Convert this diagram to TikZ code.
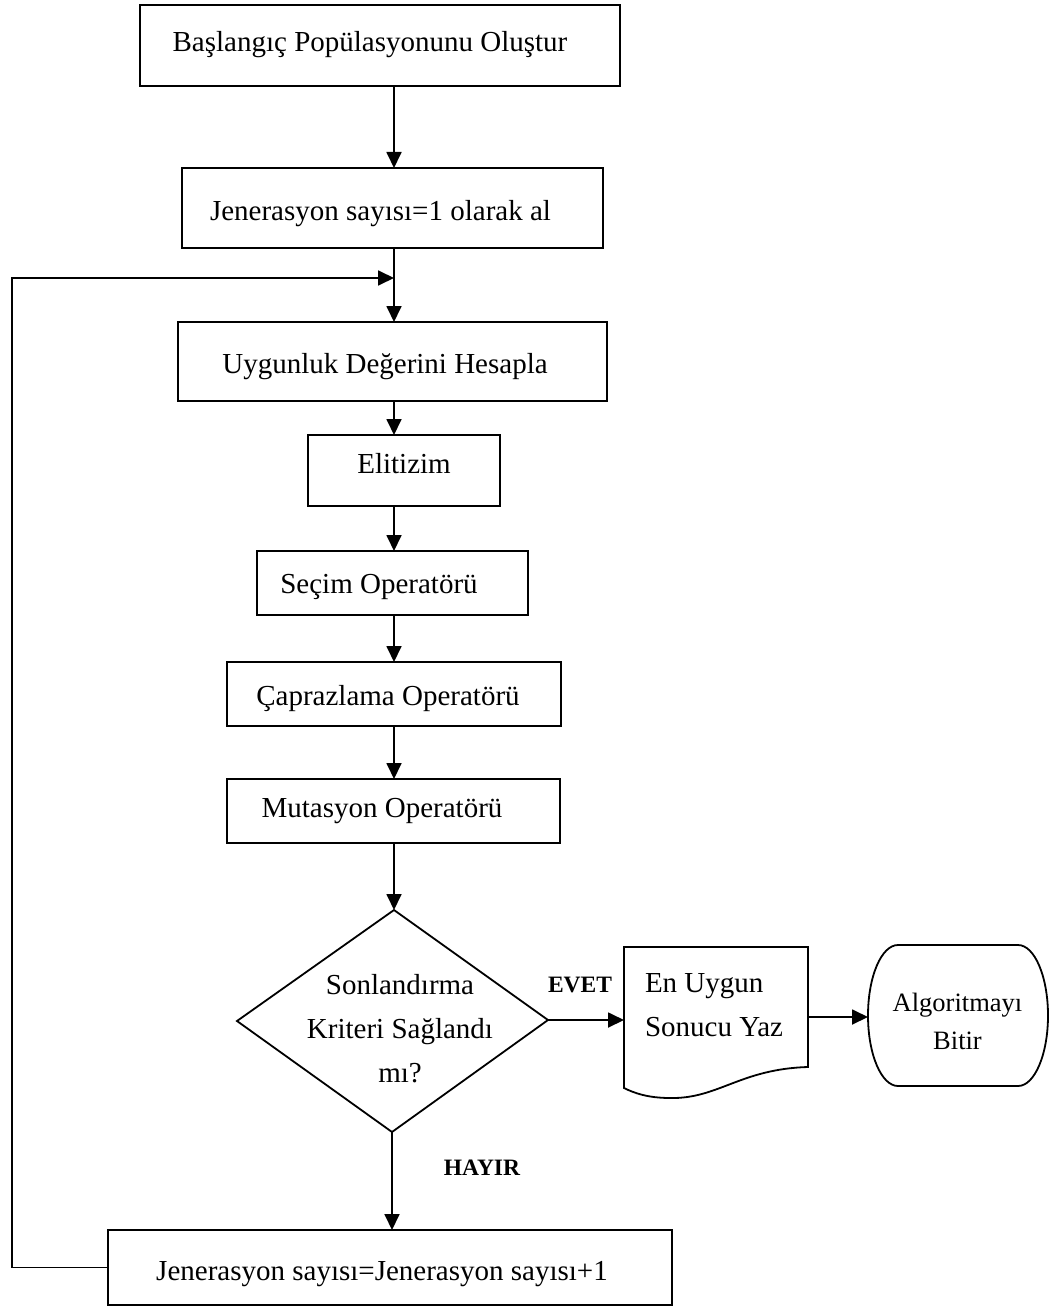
\documentclass[tikz,border=0pt]{standalone}
\usepackage{fontspec}
\setmainfont{Liberation Serif}
\usetikzlibrary{arrows.meta}
\begin{document}
\begin{tikzpicture}[x=1pt,y=-1pt,
  every node/.style={inner sep=0pt, outer sep=0pt},
  flowbox/.style={draw, line width=1.8pt},
  lbl/.style={font=\fontsize{29}{44}\selectfont, align=center},
  baselbl/.style={lbl, anchor=base},
  termlbl/.style={font=\fontsize{26.5}{38}\selectfont, align=center},
  yesno/.style={font=\bfseries\fontsize{23.5}{28}\selectfont, anchor=base},
  edge/.style={line width=1.8pt},
  conn/.style={edge, -{Triangle[length=16pt,width=15pt]}}]
\useasboundingbox (0,0) rectangle (1051,1308);

% process boxes
\node[flowbox, minimum width=480pt, minimum height=81pt] (b1) at (380,45.5) {};
\node[flowbox, minimum width=421pt, minimum height=80pt] (b2) at (392.5,208) {};
\node[flowbox, minimum width=429pt, minimum height=79pt] (b3) at (392.5,361.5) {};
\node[flowbox, minimum width=192pt, minimum height=71pt] (b4) at (404,470.5) {};
\node[flowbox, minimum width=271pt, minimum height=64pt] (b5) at (392.5,583) {};
\node[flowbox, minimum width=334pt, minimum height=64pt] (b6) at (394,694) {};
\node[flowbox, minimum width=333pt, minimum height=64pt] (b7) at (393.5,811) {};
\node[flowbox, minimum width=564pt, minimum height=75pt] (b8) at (390,1267.5) {};

% box texts, placed by baseline
\node[baselbl] (t1) at (370,52) {Başlangıç Popülasyonunu Oluştur};
\node[baselbl] (t2) at (380.5,220) {Jenerasyon sayısı=1 olarak al};
\node[baselbl] (t3) at (385,373) {Uygunluk Değerini Hesapla};
\node[baselbl] (t4) at (404,473) {Elitizim};
\node[baselbl] (t5) at (379,593) {Seçim Operatörü};
\node[baselbl] (t6) at (388,705) {Çaprazlama Operatörü};
\node[baselbl] (t7) at (382,817) {Mutasyon Operatörü};
\node[baselbl] (t8) at (382,1280) {Jenerasyon sayısı=Jenerasyon sayısı+1};

% decision
\coordinate (dT) at (394,910);
\coordinate (dL) at (237,1021);
\coordinate (dR) at (548,1020);
\coordinate (dB) at (392,1132);
\draw[edge, line join=miter] (dT) -- (dR) -- (dB) -- (dL) -- cycle;
\node[lbl] (dtext) at (400,1029) {Sonlandırma\\Kriteri Sağlandı\\mı?};

% document (output) shape
\coordinate (docL) at (624,1020);
\coordinate (docR) at (808,1017);
\draw[edge, line join=miter] (624,947) -- (808,947) -- (808,1067)
  .. controls (740,1069) and (718,1099) .. (670,1098)
  .. controls (648,1098) and (634,1093) .. (624,1088) -- cycle;
\node[lbl, align=left, anchor=west] (doctext) at (645,1005.5) {En Uygun\\Sonucu Yaz};

% terminal shape
\coordinate (termL) at (868,1017);
\draw[edge] (898,945) -- (1018,945)
  arc[start angle=-90, end angle=90, x radius=30, y radius=70.5]
  -- (898,1086)
  arc[start angle=90, end angle=270, x radius=30, y radius=70.5] -- cycle;
\node[termlbl] (termtext) at (957.5,1021) {Algoritmayı\\Bitir};

% branch labels
\node[yesno] (yes) at (580,992) {EVET};
\node[yesno] (no) at (482,1175) {HAYIR};

% main spine
\coordinate (sp) at (394,0);
\coordinate (loopIn) at (394,278);
\coordinate (loopX) at (12,278);
\draw[conn] (b1.south -| sp) -- (b2.north -| sp);
\draw[conn] (b2.south -| sp) -- (b3.north -| sp);
\draw[conn] (b3.south -| sp) -- (b4.north -| sp);
\draw[conn] (b4.south -| sp) -- (b5.north -| sp);
\draw[conn] (b5.south -| sp) -- (b6.north -| sp);
\draw[conn] (b6.south -| sp) -- (b7.north -| sp);
\draw[conn] (b7.south -| sp) -- (dT);
\draw[conn] (dR) -- (docL);
\draw[conn] (docR) -- (termL);
\draw[conn] (dB) -- (b8.north -| dB);

% loop back to fitness evaluation
\draw[conn] (b8.west) -| (loopX) |- (loopIn);
\end{tikzpicture}
\end{document}
